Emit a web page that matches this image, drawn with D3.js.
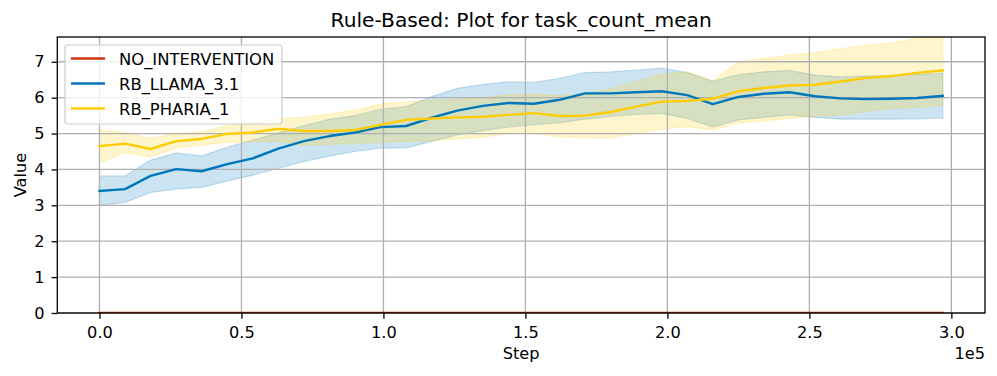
<!DOCTYPE html>
<html>
<head>
<meta charset="utf-8">
<script src="https://cdn.jsdelivr.net/npm/d3@7"></script>
<style>
  html, body { margin: 0; padding: 0; background: #fff; }
  text { font-family: "DejaVu Sans", sans-serif; fill: #000; }
</style>
</head>
<body>
<svg id="chart" width="997" height="376"></svg>
<script>
// ---- data ----
const steps = d3.range(0, 297001, 9000);
const seriesNames = ["NO_INTERVENTION", "RB_LLAMA_3.1", "RB_PHARIA_1"];
const noIntervention = steps.map(() => 0);
const llamaMean = [3.40, 3.45, 3.82, 4.01, 3.95, 4.15, 4.31, 4.58, 4.79, 4.93, 5.03, 5.18, 5.21, 5.44, 5.64, 5.77, 5.85, 5.83, 5.94, 6.12, 6.12, 6.15, 6.18, 6.07, 5.82, 6.02, 6.11, 6.15, 6.04, 5.98, 5.96, 5.97, 5.99, 6.05];
const llamaUpper = [3.82, 3.82, 4.26, 4.46, 4.38, 4.62, 4.82, 5.02, 5.22, 5.40, 5.50, 5.68, 5.75, 6.03, 6.26, 6.37, 6.44, 6.43, 6.54, 6.70, 6.72, 6.77, 6.82, 6.70, 6.46, 6.64, 6.72, 6.76, 6.63, 6.58, 6.60, 6.62, 6.65, 6.68];
const llamaLower = [3.00, 3.08, 3.36, 3.45, 3.50, 3.68, 3.84, 4.03, 4.22, 4.37, 4.50, 4.59, 4.60, 4.78, 4.96, 5.08, 5.18, 5.25, 5.30, 5.40, 5.48, 5.53, 5.56, 5.42, 5.18, 5.38, 5.45, 5.52, 5.45, 5.40, 5.40, 5.40, 5.41, 5.43];
const phariaMean = [4.65, 4.72, 4.57, 4.79, 4.85, 4.99, 5.03, 5.13, 5.07, 5.07, 5.10, 5.24, 5.38, 5.42, 5.45, 5.47, 5.52, 5.57, 5.49, 5.50, 5.60, 5.75, 5.89, 5.91, 5.97, 6.18, 6.27, 6.34, 6.36, 6.45, 6.55, 6.60, 6.69, 6.76];
const phariaUpper = [5.10, 5.03, 4.87, 5.00, 5.05, 5.22, 5.30, 5.42, 5.45, 5.55, 5.65, 5.82, 5.88, 5.92, 5.95, 6.00, 6.08, 6.10, 6.05, 6.08, 6.25, 6.45, 6.65, 6.72, 6.47, 7.00, 7.09, 7.19, 7.25, 7.37, 7.46, 7.53, 7.65, 7.70];
const phariaLower = [4.18, 4.47, 4.35, 4.60, 4.68, 4.75, 4.78, 4.78, 4.68, 4.70, 4.72, 4.75, 4.78, 4.80, 4.85, 4.90, 5.00, 5.00, 4.91, 4.88, 4.88, 5.00, 5.12, 5.19, 5.10, 5.30, 5.35, 5.42, 5.48, 5.52, 5.62, 5.70, 5.73, 5.79];
const xTicks = [0, 50000, 100000, 150000, 200000, 250000, 300000];
const yTicks = [0, 1, 2, 3, 4, 5, 6, 7];
const colors = ["#cc3311", "#0077bb", "#ffcc00"];

// ---- layout ----
const svg = d3.select("#chart");
const L = 57.3, R = 985, T = 37, B = 313;
const FS = 16.2;
const span = d3.max(steps) - d3.min(steps);
const x = d3.scaleLinear().domain([d3.min(steps) - 0.05 * span, d3.max(steps) + 0.05 * span]).range([L, R]);
const y = d3.scaleLinear().domain([0, 7.69]).range([B, T]);

svg.append("defs").append("clipPath").attr("id", "clip")
  .append("rect").attr("x", L).attr("y", T).attr("width", R - L).attr("height", B - T);

const bandLayer = svg.append("g").attr("clip-path", "url(#clip)");
const gridLayer = svg.append("g");
const lineLayer = svg.append("g").attr("clip-path", "url(#clip)");

// bands
const bands = [
  { upper: llamaUpper, lower: llamaLower, color: colors[1] },
  { upper: phariaUpper, lower: phariaLower, color: colors[2] }
];
const area = d3.area().x((d) => x(d.s)).y0((d) => y(d.lo)).y1((d) => y(d.hi));
bands.forEach((b) => {
  const pts = steps.map((s, i) => ({ s, lo: b.lower[i], hi: b.upper[i] }));
  bandLayer.append("path").datum(pts).attr("d", area)
    .attr("fill", b.color).attr("fill-opacity", 0.2)
    .attr("stroke", b.color).attr("stroke-opacity", 0.2).attr("stroke-width", 1.2);
});

// grid
xTicks.forEach((t) => {
  gridLayer.append("line").attr("x1", x(t)).attr("x2", x(t)).attr("y1", T).attr("y2", B)
    .attr("stroke", "#b0b0b0").attr("stroke-width", 1.3);
});
yTicks.forEach((t) => {
  gridLayer.append("line").attr("x1", L).attr("x2", R).attr("y1", y(t)).attr("y2", y(t))
    .attr("stroke", "#b0b0b0").attr("stroke-width", 1.3);
});

// lines
const line = d3.line().x((d) => x(d.s)).y((d) => y(d.v));
const seriesVals = [noIntervention, llamaMean, phariaMean];
seriesVals.forEach((vals, k) => {
  const pts = steps.map((s, i) => ({ s, v: vals[i] }));
  lineLayer.append("path").datum(pts).attr("d", line)
    .attr("fill", "none").attr("stroke", colors[k]).attr("stroke-width", 2.4)
    .attr("stroke-linejoin", "round").attr("stroke-linecap", "square");
});

// axes
const xAxis = d3.axisBottom(x).tickValues(xTicks).tickSize(5.7).tickPadding(8)
  .tickFormat((d) => (d / 1e5).toFixed(1));
const gx = svg.append("g").attr("transform", `translate(0,${B})`).call(xAxis);
const yAxis = d3.axisLeft(y).tickValues(yTicks).tickSize(5.7).tickPadding(7).tickFormat(d3.format("d"));
const gy = svg.append("g").attr("transform", `translate(${L},0)`).call(yAxis);
[gx, gy].forEach((g) => {
  g.select(".domain").remove();
  g.selectAll(".tick line").attr("stroke", "#000").attr("stroke-width", 1.3);
  g.selectAll(".tick text").attr("font-size", FS + "px").attr("font-family", "DejaVu Sans").attr("fill", "#000");
});

// spines
svg.append("rect").attr("x", L).attr("y", T).attr("width", R - L).attr("height", B - T)
  .attr("fill", "none").attr("stroke", "#000").attr("stroke-width", 1.3);

// labels
svg.append("text").attr("x", (L + R) / 2).attr("y", 27).attr("text-anchor", "middle")
  .attr("font-size", "20.2px").text("Rule-Based: Plot for task_count_mean");
svg.append("text").attr("x", (L + R) / 2).attr("y", 358.5).attr("text-anchor", "middle")
  .attr("font-size", FS + "px").text("Step");
svg.append("text").attr("x", R).attr("y", 358.5).attr("text-anchor", "end")
  .attr("font-size", FS + "px").text("1e5");
svg.append("text").attr("transform", `translate(26,${(T + B) / 2}) rotate(-90)`).attr("text-anchor", "middle")
  .attr("font-size", FS + "px").text("Value");

// legend
const lg = svg.append("g");
lg.append("rect").attr("x", 65).attr("y", 45).attr("width", 217).attr("height", 79).attr("rx", 3)
  .attr("fill", "#fff").attr("fill-opacity", 0.8).attr("stroke", "#cccccc").attr("stroke-width", 1.2);
seriesNames.forEach((name, k) => {
  const yy = 58.5 + k * 25;
  lg.append("line").attr("x1", 71).attr("x2", 105).attr("y1", yy).attr("y2", yy)
    .attr("stroke", colors[k]).attr("stroke-width", 2.4);
  lg.append("text").attr("x", 119).attr("y", yy + 6).attr("font-size", "16.4px").text(name);
});
</script>
</body>
</html>
